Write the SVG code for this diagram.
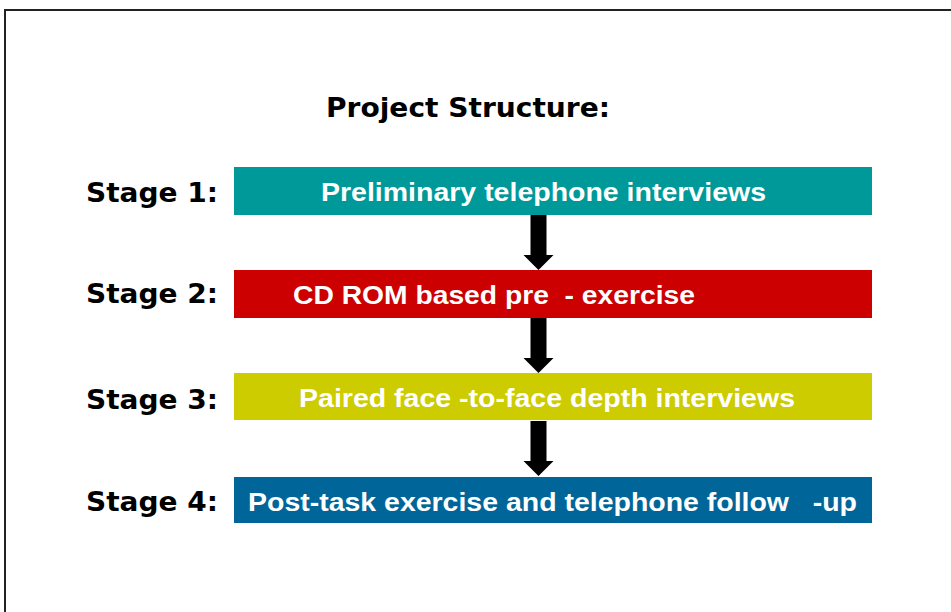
<svg xmlns="http://www.w3.org/2000/svg" width="951" height="612" viewBox="0 0 951 612">
  <style>
    .title { font-family: "DejaVu Sans", Verdana, sans-serif; font-weight: bold; font-size: 26px; fill: #000; }
    .stage { font-family: "DejaVu Sans", Verdana, sans-serif; font-weight: bold; font-size: 27px; fill: #000; }
    .boxtext { font-family: "Liberation Sans", Arial, sans-serif; font-weight: bold; font-size: 25px; fill: #fff; }
    .arrow { fill: #000; }
  </style>
  <defs>
    <path id="downArrow" d="M -8 0 L 8 0 L 8 40 L 15 40 L 0 55 L -15 40 L -8 40 Z"/>
  </defs>
  <rect width="951" height="612" fill="#fff"/>
  <!-- frame: top and left edges -->
  <path d="M 5 612 L 5 10 L 951 10" fill="none" stroke="#222" stroke-width="2"/>

  <text class="title" x="326" y="117" textLength="284" lengthAdjust="spacingAndGlyphs">Project Structure:</text>

  <g id="stage1">
    <text class="stage" x="86" y="202" textLength="132" lengthAdjust="spacingAndGlyphs">Stage 1:</text>
    <rect x="234" y="167" width="638" height="48" fill="#009999"/>
    <text class="boxtext" x="321" y="201" textLength="445" lengthAdjust="spacingAndGlyphs">Preliminary telephone interviews</text>
  </g>
  <g id="stage2">
    <text class="stage" x="86" y="303" textLength="132" lengthAdjust="spacingAndGlyphs">Stage 2:</text>
    <rect x="234" y="270" width="638" height="48" fill="#CC0000"/>
    <text class="boxtext" x="293" y="304" textLength="402" lengthAdjust="spacingAndGlyphs" xml:space="preserve">CD ROM based pre  - exercise</text>
  </g>
  <g id="stage3">
    <text class="stage" x="86" y="409" textLength="132" lengthAdjust="spacingAndGlyphs">Stage 3:</text>
    <rect x="234" y="373" width="638" height="47" fill="#CCCC00"/>
    <text class="boxtext" x="299" y="407" textLength="496" lengthAdjust="spacingAndGlyphs">Paired face -to-face depth interviews</text>
  </g>
  <g id="stage4">
    <text class="stage" x="86" y="511" textLength="132" lengthAdjust="spacingAndGlyphs">Stage 4:</text>
    <rect x="234" y="477" width="638" height="46" fill="#006699"/>
    <text class="boxtext" x="248" y="511" textLength="609" lengthAdjust="spacingAndGlyphs" xml:space="preserve">Post-task exercise and telephone follow   -up</text>
  </g>

  <g id="connectors">
    <use href="#downArrow" class="arrow" x="538.5" y="215"/>
    <use href="#downArrow" class="arrow" x="538.5" y="318"/>
    <use href="#downArrow" class="arrow" x="538.5" y="421"/>
  </g>
</svg>
